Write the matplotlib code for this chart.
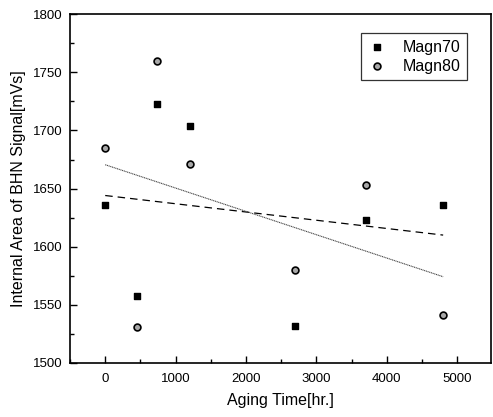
import numpy as np
import matplotlib
matplotlib.use("Agg")
import matplotlib.pyplot as plt
from matplotlib.ticker import MultipleLocator

aging_time = [0, 450, 737, 1200, 2700, 3700, 4800]
magn70 = [1636, 1558, 1723, 1704, 1532, 1623, 1636]
magn80 = [1685, 1531, 1760, 1671, 1580, 1653, 1541]
x_ticks = [0, 1000, 2000, 3000, 4000, 5000]
y_ticks = [1500, 1550, 1600, 1650, 1700, 1750, 1800]

plt.rcParams['font.family'] = ['Liberation Sans', 'DejaVu Sans']

fig = plt.figure(figsize=(4.93, 4.17), dpi=100)
ax = fig.add_axes([0.142, 0.1295, 0.854, 0.8365])

x = np.array(aging_time, dtype=float)
ax.scatter(x, magn70, marker='s', s=24, color='black', zorder=3, label='Magn70')
ax.scatter(x, magn80, marker='o', s=24, facecolor='#a8a8a8', edgecolor='black',
           linewidths=1.2, zorder=3, label='Magn80')

xx = np.array([x.min(), x.max()])
p70 = np.polyfit(x, magn70, 1)
p80 = np.polyfit(x, magn80, 1)
ax.plot(xx, np.polyval(p70, xx), color='black', lw=0.9, linestyle=(0, (6, 4)))
ax.plot(xx, np.polyval(p80, xx), color='#444444', lw=0.8, linestyle=(0, (1, 0.6)))

ax.set_xlim(-500, 5480)
ax.set_ylim(1500, 1800)
ax.set_xticks(x_ticks)
ax.set_yticks(y_ticks)
ax.xaxis.set_minor_locator(MultipleLocator(500))
ax.yaxis.set_minor_locator(MultipleLocator(25))
ax.tick_params(which='both', direction='in', top=False, right=False, labelsize=9.5, width=1)
ax.tick_params(axis='x', which='major', pad=7)
ax.tick_params(axis='y', which='major', pad=5)
ax.tick_params(which='major', length=5)
ax.tick_params(which='minor', length=3)
for s in ax.spines.values():
    s.set_linewidth(1.2)

ax.set_xlabel('Aging Time[hr.]', fontsize=11.5, labelpad=6)
ax.set_ylabel('Internal Area of BHN Signal[mVs]', fontsize=11.5, labelpad=5)

leg = ax.legend(loc='upper right', bbox_to_anchor=(0.955, 0.959), fontsize=11.5,
                frameon=True, fancybox=False, edgecolor='black', handletextpad=1.0,
                handlelength=1.2, borderpad=0.4, labelspacing=0.25, scatterpoints=1,
                borderaxespad=0.3)
leg.get_frame().set_linewidth(0.9)

fig.savefig('out.png', dpi=100)
